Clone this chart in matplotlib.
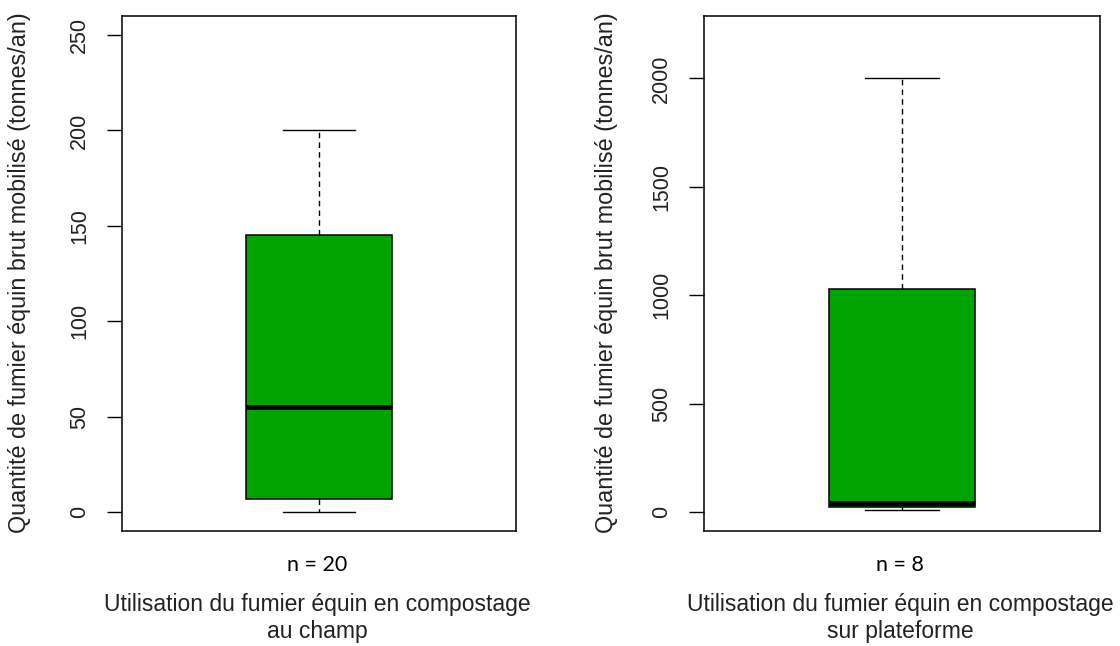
import matplotlib
matplotlib.use("Agg")
import matplotlib.pyplot as plt

# box statistics (tonnes/an)
champ_stats = [0, 7, 55, 145, 200]         # whislo, q1, med, q3, whishi
plateforme_stats = [9, 21, 42, 1030, 2000]
n_labels = ["n = 20", "n = 8"]
x_labels = ["Utilisation du fumier équin en compostage\nau champ",
            "Utilisation du fumier équin en compostage\nsur plateforme"]
y_label = "Quantité de fumier équin brut mobilisé (tonnes/an)"
champ_ticks = [0, 50, 100, 150, 200, 250]
plateforme_ticks = [0, 500, 1000, 1500, 2000]

GREEN = "#00A400"
plt.rcParams["font.family"] = ["Liberation Sans", "DejaVu Sans"]

fig = plt.figure(figsize=(11.2, 6.46), dpi=100)
ax1 = fig.add_axes([122/1120, 1-531/646, 394/1120, 515/646])
ax2 = fig.add_axes([704/1120, 1-531/646, 396/1120, 515/646])


def draw_box(ax, s, ticks, ylim, xcenter, n_text, xlab):
    stats = [dict(whislo=s[0], q1=s[1], med=s[2], q3=s[3], whishi=s[4], fliers=[])]
    ax.bxp(stats, positions=[1], widths=0.4, patch_artist=True,
           boxprops=dict(facecolor=GREEN, edgecolor="black", linewidth=1.1),
           medianprops=dict(color="black", linewidth=3.5, solid_capstyle="butt"),
           whiskerprops=dict(color="black", linestyle=(0, (4, 3)), linewidth=1.0),
           capprops=dict(color="black", linewidth=1.0), capwidths=0.2)
    ax.set_xlim(0.46, 1.54)
    ax.set_ylim(*ylim)
    ax.set_xticks([])
    ax.set_yticks(ticks)
    ax.set_yticklabels([str(t) for t in ticks], rotation=90, va="center")
    ax.tick_params(axis="y", length=11, width=1.0, pad=12, labelsize=15.5,
                   labelcolor="#222222")
    for sp in ax.spines.values():
        sp.set_linewidth(1.1)
    fig.text(xcenter / 1120, 1 - 565/646, n_text, ha="center", va="center",
             fontsize=15.5, family=["Lato", "DejaVu Sans"])
    fig.text(xcenter / 1120, 1 - 618/646, xlab, ha="center", va="center",
             fontsize=16.5, linespacing=1.2, color="#222222")


draw_box(ax1, champ_stats, champ_ticks, (-10, 260), 317, n_labels[0], x_labels[0])
draw_box(ax2, plateforme_stats, plateforme_ticks, (-88, 2288), 900, n_labels[1], x_labels[1])

fig.text(20/1120, 1 - 273/646, y_label, rotation=90, ha="center", va="center",
         fontsize=16.8, color="#222222")
fig.text(607/1120, 1 - 273/646, y_label, rotation=90, ha="center", va="center",
         fontsize=16.8, color="#222222")

fig.savefig("out.png", dpi=100)
